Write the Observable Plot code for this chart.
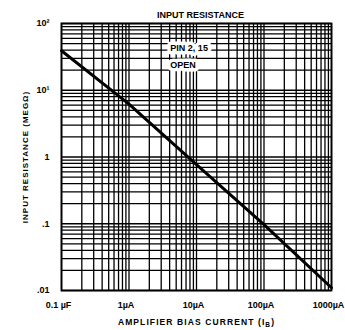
<!DOCTYPE html>
<html><head><meta charset="utf-8">
<script src="https://cdn.jsdelivr.net/npm/d3@7"></script>
<script src="https://cdn.jsdelivr.net/npm/@observablehq/plot@0.6"></script>
<style>body{margin:0;background:#fff}</style>
</head><body><div id="chart"></div>
<script>
const biasCurrent = [0.1, 1, 10, 100, 1000];
const resistance = [39, 6.2, 0.77, 0.097, 0.011];
const xTickValues = [0.1, 1, 10, 100, 1000];
const xTickLabels = ["0.1 \u00b5F", "1\u00b5A", "10\u00b5A", "100\u00b5A", "1000\u00b5A"];
const yTickValues = [0.01, 0.1, 1, 10, 100];
const yTickLabels = [".01", ".1", "1", "10\u00b9", "10\u00b2"];
const noteLines = ["PIN 2, 15", "OPEN"];
const noteX = [4.1, 4.1];
const noteY = [43, 24];
const title = "INPUT RESISTANCE";
const xLabel = "AMPLIFIER BIAS CURRENT (IB)";
const yLabel = "INPUT RESISTANCE (MEG\u03a9)";

const curve = biasCurrent.map((x, i) => ({x, y: resistance[i]}));
const notes = noteLines.map((t, i) => ({x: noteX[i], y: noteY[i], t}));

const chart = Plot.plot({
  width: 345,
  height: 330,
  marginTop: 23,
  marginLeft: 61,
  marginRight: 14,
  marginBottom: 40,
  style: {fontFamily: "'Liberation Sans', Arial, sans-serif", fontWeight: "bold", fontSize: "9px", color: "#000", background: "#fff"},
  x: {type: "log", domain: [0.1, 1000]},
  y: {type: "log", domain: [0.01, 100]},
  marks: [
    Plot.gridX({ticks: 10, stroke: "#000", strokeOpacity: 1, strokeWidth: 1.3}),
    Plot.gridY({ticks: 10, stroke: "#000", strokeOpacity: 1, strokeWidth: 1.3}),
    Plot.text(notes, {x: "x", y: "y", text: "t", textAnchor: "start", fontSize: 9, fontWeight: "bold", fill: "#000", stroke: "#fff", strokeWidth: 7, strokeLinejoin: "round", letterSpacing: "0.6px"}),
    Plot.frame({stroke: "#000", strokeWidth: 1.8}),
    Plot.line(curve, {x: "x", y: "y", stroke: "#000", strokeWidth: 3}),
    Plot.axisX({ticks: xTickValues, tickFormat: d => xTickLabels[xTickValues.indexOf(d)], tickSize: 0, tickPadding: 11, label: xLabel, labelAnchor: "center", labelOffset: 34, labelArrow: false, fontSize: 9, dx: -3}),
    Plot.axisY({ticks: yTickValues, tickFormat: d => yTickLabels[yTickValues.indexOf(d)], tickSize: 0, tickPadding: 12, label: yLabel, labelAnchor: "center", labelOffset: 39, labelArrow: false, fontSize: 9}),
    Plot.text([title], {frameAnchor: "top", dy: -12, dx: 4, fontSize: 9, fontWeight: "bold", letterSpacing: "0.9px"})
  ]
});
document.getElementById("chart").appendChild(chart);

chart.querySelectorAll("text").forEach(t => {
  if (t.textContent === xLabel) {
    t.textContent = "";
    const ns = "http://www.w3.org/2000/svg";
    const a = document.createElementNS(ns, "tspan"); a.textContent = "AMPLIFIER BIAS CURRENT (I";
    const b = document.createElementNS(ns, "tspan"); b.textContent = "B"; b.setAttribute("font-size", "6.5"); b.setAttribute("dy", "2");
    const c = document.createElementNS(ns, "tspan"); c.textContent = ")"; c.setAttribute("dy", "-2");
    t.append(a, b, c);
    t.setAttribute("letter-spacing", "1.1");
    t.setAttribute("font-size", "8.5");
  }
  if (t.textContent === yLabel) {
    t.setAttribute("letter-spacing", "1");
    t.setAttribute("font-size", "8");
  }
});
</script>
</body></html>
